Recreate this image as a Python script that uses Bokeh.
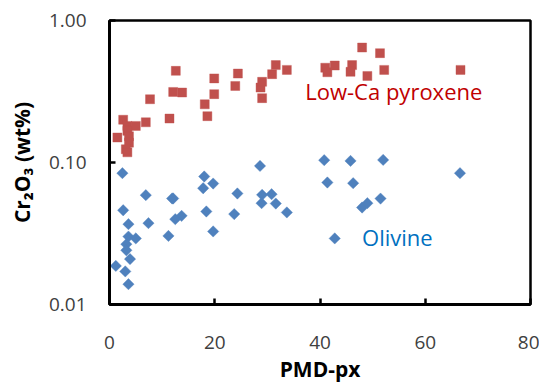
import numpy as np
from bokeh.plotting import figure
from bokeh.models import FixedTicker, PrintfTickFormatter, Label
from bokeh.embed import file_html
from bokeh.resources import INLINE

# Low-Ca pyroxene
px_x = [1.5, 2.6, 3.4, 5.0, 6.9, 3.4, 3.7, 3.7, 3.1, 3.4, 7.7, 11.4, 12.1, 13.8, 12.6,
        18.1, 18.6, 19.9, 19.9, 24.4, 23.9, 29.0, 28.7, 29.0, 30.9, 31.6, 33.7,
        41.0, 41.4, 42.8, 46.1, 45.8, 48.0, 49.0, 51.4, 52.2, 66.7]
px_y = [0.150, 0.200, 0.181, 0.181, 0.192, 0.167, 0.153, 0.138, 0.124, 0.118, 0.279, 0.204,
        0.314, 0.311, 0.442, 0.257, 0.212, 0.303, 0.391, 0.423, 0.346, 0.284, 0.337, 0.370,
        0.419, 0.485, 0.449, 0.465, 0.432, 0.482, 0.485, 0.435, 0.645, 0.407, 0.589, 0.449,
        0.449]

# Olivine
ol_x = [2.45, 6.9, 12.1, 11.9, 18.0, 17.8, 19.7, 28.6, 24.3, 29.0, 30.8, 28.9, 31.6, 33.7,
        18.4, 23.7, 19.7, 13.7, 12.5, 7.4, 11.2, 2.6, 3.6, 3.6, 5.0, 3.2, 3.2, 3.9, 1.2,
        3.0, 3.6, 40.8, 41.4, 45.8, 46.3, 52.0, 66.6, 51.5, 48.0, 49.0, 42.8]
ol_y = [0.0841, 0.0589, 0.0558, 0.0558, 0.0797, 0.0659, 0.0711, 0.0946, 0.0605, 0.0592,
        0.0598, 0.0517, 0.0514, 0.0445, 0.0452, 0.0433, 0.0327, 0.0421, 0.0399, 0.0374,
        0.0304, 0.0461, 0.0368, 0.0301, 0.0292, 0.0266, 0.0241, 0.0209, 0.0187, 0.0171,
        0.0139, 0.1038, 0.0723, 0.1026, 0.0715, 0.1043, 0.0841, 0.0557, 0.0482, 0.0517,
        0.0292]

x_ticks = [0, 20, 40, 60, 80]
y_ticks = [0.01, 0.1, 1.0]

FONT = "Open Sans"

p = figure(width=539, height=383, x_range=(0, 80), y_range=(0.01, 1.0),
           y_axis_type="log", output_backend="svg", toolbar_location=None,
           min_border_left=109, min_border_right=9, min_border_top=20,
           min_border_bottom=79, frame_width=421, frame_height=284)
p.grid.visible = False
p.background_fill_color = "white"
p.border_fill_color = "white"
p.outline_line_color = "black"
p.outline_line_width = 2.5

p.xaxis.ticker = FixedTicker(ticks=x_ticks, minor_ticks=[])
p.yaxis.ticker = FixedTicker(ticks=y_ticks, minor_ticks=[])
p.yaxis.formatter = PrintfTickFormatter(format="%.2f")

for ax in (p.xaxis[0], p.yaxis[0]):
    ax.axis_line_color = "black"
    ax.axis_line_width = 3
    ax.major_tick_line_color = "black"
    ax.major_tick_line_width = 2.5
    ax.major_tick_in = 6
    ax.major_tick_out = 0
    ax.major_label_text_font = FONT
    ax.major_label_text_font_size = "19px"
    ax.major_label_text_color = "#404040"
    ax.axis_label_text_font = FONT
    ax.axis_label_text_font_size = "21px"
    ax.axis_label_text_font_style = "bold"
    ax.axis_label_text_color = "black"

p.xaxis.axis_label = "PMD-px"
p.xaxis.major_label_standoff = 31
p.xaxis.axis_label_standoff = 3
p.yaxis.axis_label = "Cr\u2082O\u2083 (wt%)"
p.yaxis.major_label_standoff = 23
p.yaxis.axis_label_standoff = 10

p.scatter(px_x, px_y, marker="square", size=9, fill_color="#C0504D",
          line_color="#C0504D", line_alpha=0.4)
p.scatter(ol_x, ol_y, marker="square", size=8, angle=np.pi / 4,
          fill_color="#4F81BD", line_color="#4F81BD", line_alpha=0.4)

p.add_layout(Label(x=37.2, y=0.318, text="Low-Ca pyroxene", text_font=FONT,
                   text_font_size="22px", text_color="#C00000",
                   text_baseline="middle", text_align="left"))
p.add_layout(Label(x=48.0, y=0.0301, text="Olivine", text_font=FONT,
                   text_font_size="22px", text_color="#0070C0",
                   text_baseline="middle", text_align="left"))

open("out.html", "w").write(file_html(p, INLINE))
